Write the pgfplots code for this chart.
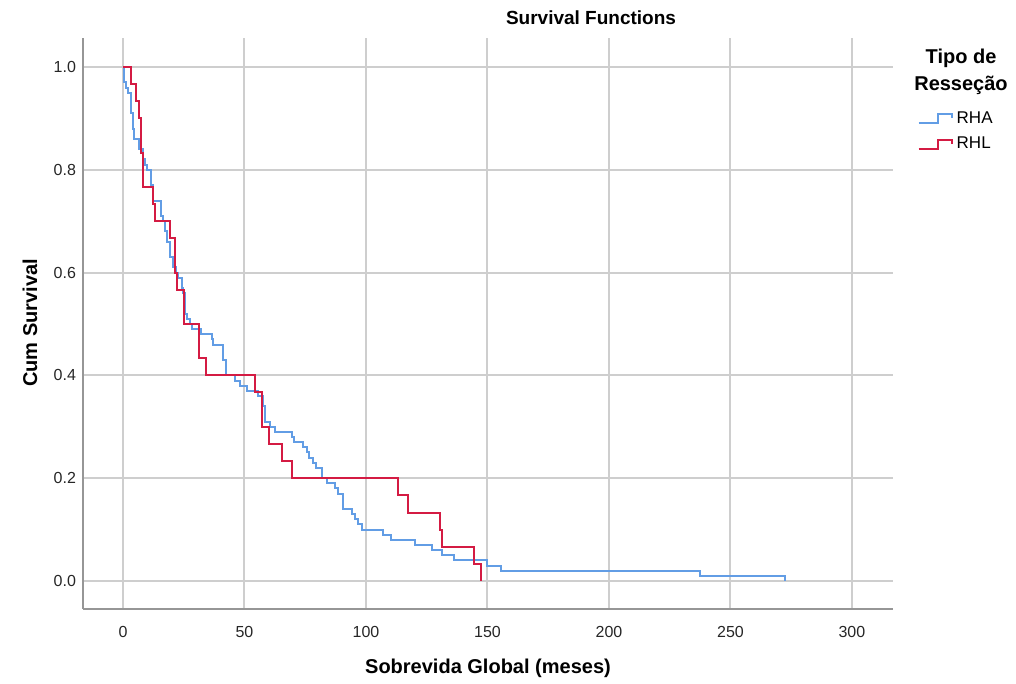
\documentclass[border=0pt]{standalone}
\usepackage{fontspec}
\setmainfont{Liberation Sans}
\usepackage{pgfplots}
\pgfplotsset{compat=1.18}
\definecolor{rha}{RGB}{98,157,229}
\definecolor{rhl}{RGB}{212,27,67}
\definecolor{gridgray}{RGB}{206,206,206}
\definecolor{axgray}{RGB}{150,150,150}

\begin{document}
\begin{tikzpicture}[x=0.5pt,y=0.5pt]
\useasboundingbox (0,0) rectangle (1016,684);
\begin{axis}[
  at={(41.5pt,37.5pt)}, anchor=south west,
  scale only axis, width=405pt, height=285.5pt,
  xmin=-16.46, xmax=316.9, ymin=-0.0545, ymax=1.0564,
  axis x line=bottom, axis y line=left,
  axis line style={-, axgray, line width=1pt},
  xtick={0,50,100,150,200,250,300},
  ytick={0,0.2,0.4,0.6,0.8,1.0},
  major tick length=0pt,
  grid=major,
  major grid style={gridgray, line width=1pt},
  tick label style={font=\fontsize{8}{9}\selectfont, text=black!85},
  /pgf/number format/assume math mode=true,
  yticklabel style={/pgf/number format/.cd, fixed, fixed zerofill, precision=1},
  xticklabel style={yshift=-5pt},
  legend style={at={(1.03,0.879)}, anchor=north west, draw=none, fill=none,
    font=\fontsize{8.5}{10}\selectfont, row sep=1.5pt, inner sep=0pt},
  legend cell align=left,
  legend image code/.code={\draw[#1] (0pt,-2.2pt) -- (9.5pt,-2.2pt) -- (9.5pt,2.5pt) -- (16.5pt,2.5pt) -- (16.5pt,0.5pt);},
  clip=false,
]
% RHA
\addplot[const plot, rha, line width=1pt] coordinates {
  (0,1.00) (0.4,0.97) (1.2,0.96) (2.0,0.95) (3.2,0.91) (4.1,0.88) (4.6,0.86)
  (6.4,0.84) (8.2,0.82) (9.0,0.81) (9.7,0.80) (11.4,0.77) (12.2,0.74)
  (15.5,0.71) (16.3,0.70) (17.3,0.68) (18.0,0.66) (19.3,0.63) (20.7,0.61)
  (22.0,0.60) (22.8,0.59) (24.1,0.57) (24.8,0.56) (25.5,0.52) (26.2,0.51)
  (27.6,0.50) (28.5,0.49) (31.9,0.48) (36.5,0.47) (37.1,0.46) (41.3,0.43)
  (42.4,0.40) (46.1,0.39) (48.0,0.38) (51.2,0.37) (55.7,0.36) (57.5,0.34)
  (58.4,0.31) (60.5,0.30) (62.6,0.29) (69.4,0.28) (70.4,0.27) (74.2,0.26)
  (75.6,0.25) (76.7,0.24) (78.3,0.23) (79.4,0.22) (81.7,0.20) (83.8,0.19)
  (87.2,0.18) (88.5,0.17) (90.7,0.14) (94.1,0.13) (95.5,0.12) (96.8,0.11)
  (98.5,0.10) (107.1,0.09) (110.5,0.08) (120.2,0.07) (127.0,0.06)
  (131.1,0.05) (136.2,0.04) (150.0,0.03) (155.4,0.02) (237.4,0.01)
  (272.4,0.00)
};
\addlegendentry{RHA}
% RHL
\addplot[const plot, rhl, line width=1pt] coordinates {
  (0,1.000) (3.2,0.967) (5.4,0.933) (6.4,0.900) (7.5,0.833) (8.4,0.767)
  (12.2,0.733) (13.3,0.700) (19.3,0.667) (21.4,0.600) (22.2,0.567)
  (25.2,0.500) (31.2,0.433) (34.2,0.400) (54.3,0.367) (57.2,0.300)
  (60.2,0.267) (65.3,0.233) (69.4,0.200) (113.3,0.167) (117.4,0.133)
  (130.5,0.100) (131.3,0.067) (144.4,0.033) (147.3,0.000)
};
\addlegendentry{RHL}
\end{axis}
\node[font=\bfseries\fontsize{9.5}{11}\selectfont] at (591,666) {Survival Functions};
\node[font=\bfseries\fontsize{10}{12}\selectfont, rotate=90] at (30,361) {Cum Survival};
\node[font=\bfseries\fontsize{10}{12}\selectfont] at (488,16) {Sobrevida Global (meses)};
\node[font=\bfseries\fontsize{10}{13.5}\selectfont, align=center] at (961,612) {Tipo de\\Resseção};
\end{tikzpicture}
\end{document}
